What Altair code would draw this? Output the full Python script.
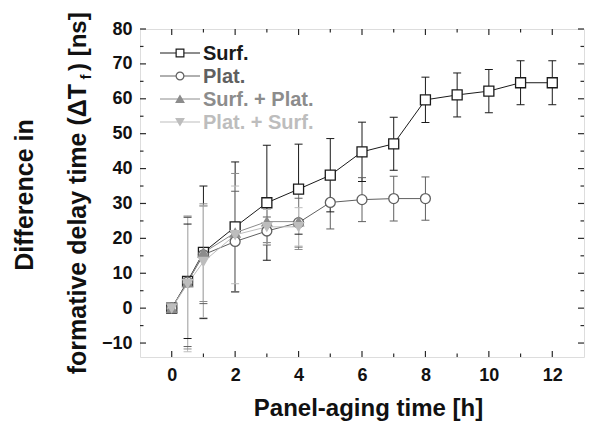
import altair as alt
import pandas as pd

# ---------------- data ----------------
SERIES = ["Surf.", "Plat.", "Surf. + Plat.", "Plat. + Surf."]
COLORS = ["#1a1a1a", "#606060", "#8c8c8c", "#bdbdbd"]
FILLS = ["#ffffff", "#ffffff", "#8c8c8c", "#bdbdbd"]
SHAPES = ["square", "circle", "triangle-up", "triangle-down"]
SIZES = [100, 95, 130, 130]

surf_x = [0, 0.5, 1, 2, 3, 4, 5, 6, 7, 8, 9, 10, 11, 12]
surf_y = [0, 7.7, 16.0, 23.3, 30.2, 34.1, 38.1, 44.8, 47.1, 59.7, 61.1, 62.2, 64.6, 64.6]
surf_err = [0, 16.4, 19.0, 18.6, 16.5, 12.9, 10.5, 8.5, 7.6, 6.5, 6.3, 6.2, 6.3, 6.3]

plat_x = [0, 0.5, 1, 2, 3, 4, 5, 6, 7, 8]
plat_y = [0, 7.5, 15.3, 19.1, 22.1, 24.5, 30.3, 31.1, 31.4, 31.4]
plat_err = [0, 18.5, 14.0, 14.4, 4.0, 7.0, 7.6, 6.3, 6.4, 6.2]

sp_x = [0, 0.5, 1, 2, 3, 4]
sp_y = [0, 7.3, 15.9, 21.6, 24.8, 24.8]
sp_err = [0, 19.0, 14.0, 17.0, 6.0, 8.0]

ps_x = [0, 0.5, 1, 2, 3, 4]
ps_y = [0, 7.0, 13.3, 21.0, 23.3, 23.3]
ps_err = [0, 19.5, 16.0, 14.0, 5.0, 5.5]

x_major = [0, 2, 4, 6, 8, 10, 12]
x_minor = [1, 3, 5, 7, 9, 11]
y_major = [-10, 0, 10, 20, 30, 40, 50, 60, 70, 80]
y_minor = [-5, 5, 15, 25, 35, 45, 55, 65, 75]

X_TITLE = "Panel-aging time [h]"
Y_TITLE_1 = "Difference in"
Y_TITLE_2A = "formative delay time (\u0394T"
Y_TITLE_2SUB = "f"
Y_TITLE_2B = ") [ns]"

# ---------------- table ----------------
rows = []
for name, xs_, ys_, es_ in [
    (SERIES[0], surf_x, surf_y, surf_err),
    (SERIES[1], plat_x, plat_y, plat_err),
    (SERIES[2], sp_x, sp_y, sp_err),
    (SERIES[3], ps_x, ps_y, ps_err),
]:
    for xv, yv, ev in zip(xs_, ys_, es_):
        rows.append({"series": name, "x": xv, "y": yv, "err": ev})
df = pd.DataFrame(rows)
leg_df = pd.DataFrame({"series": SERIES, "idx": list(range(len(SERIES)))})

W, H = 444, 328
FONT = "Liberation Sans"
AX = "#2a2a2a"

xs = alt.Scale(domain=[-1, 13], nice=False, zero=False)
ys = alt.Scale(domain=[-14, 80], nice=False, zero=False)
xaxis = alt.Axis(values=x_major, title=X_TITLE, ticks=False, tickSize=0, domain=False,
                 grid=False, labelPadding=9, labelFontSize=18, labelFontWeight="bold",
                 labelColor="#111", titleFontSize=24, titleFontWeight="bold",
                 titleColor="#111", titleY=58, titleX=228, titleAlign="center",
                 titleBaseline="alphabetic")
yaxis = alt.Axis(values=y_major, title=None, ticks=False, tickSize=0, domain=False,
                 grid=False, labelPadding=8, labelFontSize=18, labelFontWeight="bold",
                 labelColor="#111")


def X(f):
    return alt.X(f, type="quantitative", scale=xs, axis=xaxis)


def Y(f):
    return alt.Y(f, type="quantitative", scale=ys, axis=yaxis)


color = alt.Color("series:N", scale=alt.Scale(domain=SERIES, range=COLORS), legend=None)
stroke = alt.Stroke("series:N", scale=alt.Scale(domain=SERIES, range=COLORS), legend=None)
fill = alt.Fill("series:N", scale=alt.Scale(domain=SERIES, range=FILLS), legend=None)
shape = alt.Shape("series:N", scale=alt.Scale(domain=SERIES, range=SHAPES), legend=None)
size = alt.Size("series:N", scale=alt.Scale(domain=SERIES, range=SIZES), legend=None)

base = alt.Chart(df).transform_calculate(lo="datum.y - datum.err", hi="datum.y + datum.err")
errs = base.transform_filter("datum.err > 0")

err_rules = errs.mark_rule(strokeWidth=1).encode(x=X("x"), y=Y("lo"), y2="hi:Q", color=color)
cap_hi = errs.mark_tick(orient="horizontal", size=8, thickness=1, opacity=1).encode(
    x=X("x"), y=Y("hi"), color=color)
cap_lo = errs.mark_tick(orient="horizontal", size=8, thickness=1, opacity=1).encode(
    x=X("x"), y=Y("lo"), color=color)
lines = base.mark_line(strokeWidth=1).encode(x=X("x"), y=Y("y"), color=color)
points = base.mark_point(opacity=1, strokeWidth=1.3, filled=False).encode(
    x=X("x"), y=Y("y"), shape=shape, fill=fill, stroke=stroke, size=size)

ticks = []
for vals, ln in [(x_major, 6), (x_minor, 3.5)]:
    d = alt.Chart(pd.DataFrame({"v": vals}))
    ticks.append(d.mark_rule(color=AX, strokeWidth=1.2).encode(
        x=X("v"), y=alt.value(H), y2=alt.value(H - ln)))
    ticks.append(d.mark_rule(color=AX, strokeWidth=1.2).encode(
        x=X("v"), y=alt.value(0), y2=alt.value(ln)))
for vals, ln in [(y_major, 6), (y_minor, 3.5)]:
    d = alt.Chart(pd.DataFrame({"v": vals}))
    ticks.append(d.mark_rule(color=AX, strokeWidth=1.2).encode(
        y=Y("v"), x=alt.value(0), x2=alt.value(ln)))
    ticks.append(d.mark_rule(color=AX, strokeWidth=1.2).encode(
        y=Y("v"), x=alt.value(W), x2=alt.value(W - ln)))

main = alt.layer(err_rules, cap_hi, cap_lo, lines, points, *ticks)

# ---------------- legend ----------------
LY = alt.Y("idx:Q", scale=alt.Scale(domain=[0, 3], range=[24, 93]), axis=None)
leg = alt.Chart(leg_df)
leg_lines = leg.mark_rule(strokeWidth=1).encode(
    x=alt.value(20), x2=alt.value(60), y=LY, color=color)
leg_points = leg.mark_point(opacity=1, strokeWidth=1.2, size=60, filled=False).encode(
    x=alt.value(40), y=LY, shape=shape, fill=fill, stroke=stroke)
leg_text = leg.mark_text(align="left", baseline="middle", font=FONT, fontSize=20,
                         fontWeight="bold", dy=1).encode(
    x=alt.value(63), y=LY, text="series:N", color=color)
legend = alt.layer(leg_lines, leg_points, leg_text)

# ---------------- y title ----------------
def ttext(txt, **kw):
    return alt.Chart(pd.DataFrame({"t": [txt]})).mark_text(
        angle=270, font=FONT, fontWeight="bold", color="#111", baseline="alphabetic", **kw
    ).encode(text="t:N")


t1 = ttext(Y_TITLE_1, fontSize=25, align="center").encode(x=alt.value(-107), y=alt.value(166))
t2a = ttext(Y_TITLE_2A, fontSize=25, align="right").encode(x=alt.value(-54), y=alt.value(55))
t2f = ttext(Y_TITLE_2SUB, fontSize=15, align="center").encode(x=alt.value(-49), y=alt.value(48))
t2b = ttext(Y_TITLE_2B, fontSize=24, align="left").encode(x=alt.value(-54), y=alt.value(42))
ytitle = alt.layer(t1, t2a, t2f, t2b)

chart = (
    alt.layer(main, legend, ytitle)
    .resolve_scale(y="independent")
    .properties(width=W, height=H,
                padding={"left": 132, "top": 21, "right": 1, "bottom": 65},
                autosize=alt.AutoSizeParams(type="none"))
    .configure_view(stroke=AX, strokeWidth=1.5)
    .configure_axis(labelFont=FONT, titleFont=FONT)
    .configure(background="white")
)

chart.save("out.html", embed_options={"renderer": "svg", "actions": False})
